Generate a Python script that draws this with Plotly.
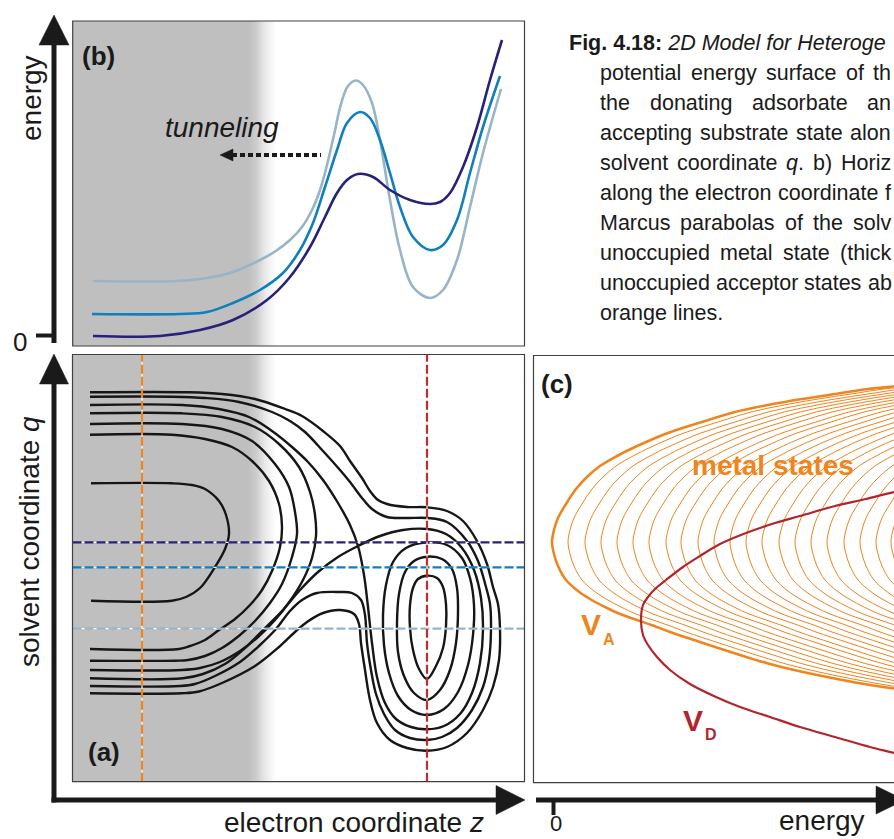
import plotly.graph_objects as go

W, H = 894, 839

# ---------------- panel (b): energy along the electron coordinate z ----------------
b_dark_z = [2.1, 8.8, 12.8, 16.1, 19.5, 21.8, 23.8, 25.3, 26.5, 27.5, 28.6, 30.1, 31.8, 33.8, 35.8, 36.8, 37.8, 39.1, 40.5, 41.8, 43.0]
b_dark_E = [1.0, 1.0, 1.6, 2.6, 4.6, 6.9, 9.9, 12.9, 15.3, 16.6, 17.2, 16.9, 15.6, 14.6, 14.2, 14.4, 15.3, 17.9, 21.9, 26.6, 30.6]

b_mid_z = [2.0, 10.8, 13.5, 16.1, 18.8, 21.1, 22.8, 24.1, 25.3, 26.5, 27.5, 28.8, 29.8, 30.8, 31.8, 32.8, 34.1, 35.8, 37.1, 38.5, 39.8, 41.1, 42.8]
b_mid_E = [3.2, 3.2, 3.4, 4.3, 5.6, 7.3, 9.6, 12.3, 15.9, 19.6, 22.3, 23.4, 22.8, 20.6, 17.3, 13.9, 10.9, 9.6, 10.1, 12.6, 17.3, 21.9, 27.0]

b_light_z = [2.1, 10.5, 13.5, 16.1, 18.8, 20.3, 21.8, 23.0, 24.0, 24.8, 25.5, 26.2, 26.9, 27.6, 28.4, 29.1, 30.0, 30.8,
             31.8, 32.8, 34.1, 35.8, 37.1, 38.5, 39.8, 41.1, 42.9]
b_light_E = [6.5, 6.5, 6.8, 7.4, 8.6, 9.45, 10.6, 11.9, 13.6, 15.6, 18.1, 21.1, 24.2, 26.0, 26.55, 26.1, 24.3, 20.6,
             14.6, 9.6, 5.9, 4.8, 5.6, 8.6, 13.9, 19.3, 25.7]

# ---------------- panel (a): contour lines of the 2D surface (z, q) ----------------
u1_z = [1.9, 10.0, 12.0, 13.3, 14.7, 15.4, 15.7, 15.3, 14.3, 12.8, 11.4, 10.0, 1.9]
u1_q = [29.87, 29.87, 29.7, 29.3, 28.1, 26.7, 24.8, 23.3, 21.5, 19.4, 18.5, 18.13, 18.13]

u2_z = [1.8, 10.0, 13.3, 16.0, 18.0, 19.7, 20.7, 21.0, 20.8, 20.0, 19.0, 17.8, 16.3, 14.7, 13.3, 11.8, 10.7, 1.8]
u2_q = [34.73, 34.73, 34.3, 33.5, 32.1, 30.1, 27.8, 25.5, 23.5, 21.1, 19.2, 17.7, 16.3, 15.2, 14.2, 13.6, 13.3, 13.3]

u3_z = [1.8, 11.0, 15.0, 18.0, 20.3, 21.7, 22.3, 22.5, 22.0, 21.0, 19.8, 18.3, 16.8, 15.0, 13.3, 11.6, 10.3, 1.8]
u3_q = [35.8, 35.8, 35.3, 34.1, 31.8, 29.5, 27.0, 24.8, 22.5, 19.8, 17.9, 16.1, 14.7, 13.4, 12.6, 12.2, 12.13, 12.13]

u4_z = [1.8, 11.0, 15.0, 18.3, 20.7, 22.7, 23.8, 24.3, 24.4, 24.0, 23.1, 21.8, 20.3, 18.6, 16.8, 14.8, 12.8, 11.0, 1.8]
u4_q = [36.87, 36.87, 36.5, 35.5, 33.8, 31.5, 29.0, 26.7, 24.6, 22.4, 20.2, 18.1, 16.2, 14.5, 13.1, 12.0, 11.4, 11.2, 11.2]

sep_z = [1.8, 11.0, 14.7, 17.7, 20.0, 22.0, 23.6, 25.1, 26.6, 27.8, 28.6, 29.2, 29.6, 30.0, 30.5, 31.3, 32.4, 33.9, 35.5,
         37.2, 38.8, 40.0, 40.8, 41.1, 40.9, 40.2, 39.0, 37.4, 35.5, 33.1, 30.8, 28.6, 26.6, 24.6, 22.8, 21.0, 19.2,
         17.3, 15.3, 13.1, 11.1, 1.8]
sep_q = [37.7, 37.7, 37.3, 36.5, 35.1, 33.5, 32.0, 30.2, 27.9, 25.7, 23.6, 20.7, 17.5, 13.9, 10.5, 7.9, 6.3, 5.5, 5.27,
         5.6, 6.8, 8.9, 11.9, 15.2, 18.4, 21.2, 23.4, 24.8, 25.3, 25.2, 24.6, 23.6, 22.5, 21.0, 19.2, 17.1, 15.3,
         13.4, 11.8, 10.8, 10.37, 10.37]

outB_z = [1.8, 10.0, 13.3, 16.7, 20.0, 21.8, 23.3, 25.1, 26.8, 27.8, 29.0, 30.0, 31.5, 33.5, 35.5, 37.5, 39.5, 40.6,
          41.4, 41.8, 41.9, 41.7, 41.1, 40.0, 38.5, 37.0, 35.5, 33.8, 32.3, 31.2, 30.4, 29.9, 29.5, 29.3, 28.9, 28.0,
          26.8, 24.5, 23.0, 21.8, 20.4, 18.8, 16.8, 14.3, 12.3, 10.8, 1.8]
outB_q = [38.53, 38.53, 38.4, 38.0, 37.0, 36.1, 35.0, 33.1, 31.2, 30.0, 28.4, 27.3, 26.5, 26.4, 26.4, 26.0, 24.1, 22.1,
          19.5, 17.8, 15.3, 12.2, 9.5, 7.2, 5.4, 4.5, 4.2, 4.4, 5.2, 6.8, 8.8, 11.2, 13.9, 16.7, 18.2, 18.9,
          19.0, 18.9, 18.2, 17.1, 15.3, 13.7, 12.0, 10.6, 9.8, 9.6, 9.6]

outA_z = [1.8, 11.7, 15.0, 18.3, 21.3, 23.0, 25.1, 26.8, 27.8, 29.0, 29.8, 30.6, 31.5, 33.5, 35.5, 37.5, 39.1, 40.5,
          41.5, 42.1, 42.6, 42.8, 42.7, 42.1, 41.1, 39.5, 37.5, 35.5, 33.5, 31.8, 30.5, 29.8, 29.3, 28.9, 28.7, 28.2,
          26.8, 25.1, 23.5, 22.3, 20.7, 18.3, 15.0, 12.7, 11.0, 1.8]
outA_q = [38.97, 38.97, 38.8, 38.3, 37.3, 36.6, 35.1, 33.6, 32.1, 30.4, 29.1, 28.2, 27.8, 27.5, 27.47, 27.1, 26.1, 24.1,
          21.8, 19.5, 17.8, 15.3, 12.2, 9.5, 7.2, 4.9, 3.5, 3.13, 3.4, 4.2, 5.9, 8.2, 11.2, 13.9, 15.8, 16.8,
          17.2, 16.9, 16.0, 15.0, 13.5, 11.6, 9.9, 9.05, 8.87, 8.87]

o1_z = [35.5, 36.5, 37.1, 37.4, 37.4, 37.1, 36.4, 35.5, 34.7, 34.1, 33.8, 33.8, 34.1, 34.6, 35.5]
o1_q = [20.63, 20.4, 19.5, 17.8, 15.6, 13.4, 11.6, 10.3, 11.3, 13.2, 15.4, 17.7, 19.4, 20.3, 20.63]

o2_z = [35.5, 37.0, 38.0, 38.5, 38.6, 38.4, 37.8, 36.8, 35.5, 34.2, 33.2, 32.6, 32.5, 32.7, 33.3, 34.2, 35.5]
o2_q = [22.53, 22.3, 21.3, 19.4, 16.9, 13.9, 11.2, 9.2, 8.2, 8.9, 10.6, 13.0, 15.9, 18.8, 21.0, 22.1, 22.53]

o3_z = [35.5, 37.5, 39.0, 39.8, 40.2, 40.1, 39.6, 38.6, 37.2, 35.5, 33.9, 32.6, 31.7, 31.2, 31.1, 31.4, 32.1, 33.4, 35.5]
o3_q = [23.97, 23.7, 22.4, 20.4, 17.7, 14.7, 11.7, 9.0, 7.3, 6.7, 7.2, 8.6, 10.9, 13.7, 16.7, 19.7, 22.0, 23.4, 23.97]

# cuts shown in (a)
cut_q = [23.97, 21.47, 15.33]          # horizontal cuts (navy, blue, light)
cut_z = [7.0, 35.5]                    # vertical cuts (orange, red)

# metal region shading along z (1 = metal grey, 0 = vacuum white)
shade_z = [-3.0, 17.5, 18.3, 19.2, 20.3, 50.0]
shade_v = [1.0, 1.0, 0.8, 0.35, 0.0, 0.0]

# ---------------- panel (c): Marcus parabolas (energy, q) ----------------
va_e = [37.7, 34.1, 31.7, 28.4, 25.0, 21.7, 18.4, 15.0, 11.7, 10.0, 8.4, 6.7, 5.2, 3.7, 2.5, 1.3, 0.5, 0.1, -0.1,
        0.1, 0.5, 1.3, 2.3, 3.4, 4.7, 6.4, 8.2, 11.5, 14.9, 18.2, 21.5, 24.9, 28.2, 31.5, 34.1, 37.7]
va_q = [9.0, 9.35, 9.7, 10.3, 11.0, 11.8, 12.8, 13.9, 15.0, 15.65, 16.2, 16.8, 17.5, 18.3, 19.1, 20.2, 21.6, 22.8, 24.0,
        25.2, 26.4, 27.8, 29.3, 30.5, 31.6, 32.6, 33.5, 34.9, 36.0, 37.0, 37.7, 38.3, 38.8, 39.3, 39.55, 39.9]
metal_offsets = [1.6, 3.3, 4.9, 6.5, 8.1, 9.7, 11.4, 12.9, 14.6, 16.2, 17.8, 19.4, 21.0, 22.7, 24.3, 25.9, 27.5, 29.2,
                 30.8, 32.4, 33.9]

vd_e = [36.7, 34.1, 31.7, 28.2, 24.7, 21.7, 18.7, 16.3, 13.7, 11.7, 10.4, 9.5, 9.0, 8.8, 9.0, 9.5, 10.2, 11.3, 13.0,
        14.7, 16.7, 19.3, 22.2, 24.7, 28.2, 31.3, 34.1, 36.7]
vd_q = [2.2, 2.9, 3.5, 4.5, 5.5, 6.5, 7.5, 8.5, 9.8, 11.2, 12.5, 13.7, 14.7, 16.2, 17.7, 18.5, 19.3, 20.2, 21.5, 22.6,
        23.8, 24.9, 25.9, 26.6, 27.6, 28.3, 29.0, 29.5]

caption_first = "<b>Fig. 4.18:</b> <i>2D Model for Heteroge</i>"
caption_lines = [
    "potential energy surface of th",
    "the donating adsorbate an",
    "accepting substrate state alon",
    "solvent coordinate <i>q</i>. b) Horiz",
    "along the electron coordinate f",
    "Marcus parabolas of the solv",
    "unoccupied metal state (thick",
    "unoccupied acceptor states ab",
]
caption_last = "orange lines."

# ---------------- styling ----------------
NAVY, BLUE, LIGHT = "#28217a", "#0f7fbd", "#98b4c6"
ORANGE, RED = "#ee851e", "#c62a2e"
VD_RED = "#b3252c"
INK = "#161616"
SANS = "Liberation Sans, Arial, Helvetica, sans-serif"
CAP_SIZE = 21.5

# Arial / Liberation Sans advance widths (em) used to justify the caption lines
AW = {'a': .556, 'b': .556, 'c': .5, 'd': .556, 'e': .556, 'f': .278, 'g': .556, 'h': .556, 'i': .222, 'j': .222,
      'k': .5, 'l': .222, 'm': .833, 'n': .556, 'o': .556, 'p': .556, 'q': .556, 'r': .333, 's': .5, 't': .278,
      'u': .556, 'v': .5, 'w': .722, 'x': .5, 'y': .5, 'z': .5, 'M': .833, 'H': .722, '.': .278, '(': .333,
      ')': .333, ':': .278, ' ': .278}


def plain(s):
    for tag in ("<i>", "</i>", "<b>", "</b>"):
        s = s.replace(tag, "")
    return s


def width(s, size):
    return sum(AW.get(ch, .556) for ch in plain(s)) * size


def px(x):
    return x / W


def py(y):
    return 1 - y / H


A_X = [px(72.5), px(524.5)]
A_Y = [py(781.7), py(354.5)]
B_Y = [py(346), py(21)]
C_X = [px(533.5), 1.0]
Z_RANGE = [0.05, 45.25]
Q_RANGE = [0.03, 42.75]
E_RANGE = [0.0, 32.5]
EC_RANGE = [-1.95, 34.1]

fig = go.Figure()

# metal shading (a) and (b)
for xa, ya in (("x", "y"), ("x2", "y2")):
    fig.add_trace(go.Heatmap(x=shade_z, y=[-10, 80], z=[shade_v, shade_v], zmin=0, zmax=1,
                             colorscale=[[0, "#ffffff"], [1, "#bfbfbf"]], zsmooth="best",
                             showscale=False, hoverinfo="skip", xaxis=xa, yaxis=ya))

# contours (a)
for zz, qq in ((u1_z, u1_q), (u2_z, u2_q), (u3_z, u3_q), (u4_z, u4_q), (sep_z, sep_q),
               (outB_z, outB_q), (outA_z, outA_q), (o1_z, o1_q), (o2_z, o2_q), (o3_z, o3_q)):
    fig.add_trace(go.Scatter(x=zz, y=qq, mode="lines", line=dict(color=INK, width=2.4, shape="spline", smoothing=1.0),
                             hoverinfo="skip", xaxis="x", yaxis="y"))

# dashed cuts (a)
for qv, col in zip(cut_q, (NAVY, BLUE, LIGHT)):
    fig.add_trace(go.Scatter(x=Z_RANGE, y=[qv, qv], mode="lines", line=dict(color="#ffffff", width=1.2),
                             hoverinfo="skip", xaxis="x", yaxis="y"))
    fig.add_trace(go.Scatter(x=Z_RANGE, y=[qv, qv], mode="lines", line=dict(color=col, width=2.3, dash="9px,3px"),
                             hoverinfo="skip", xaxis="x", yaxis="y"))
for zv, col in zip(cut_z, (ORANGE, RED)):
    fig.add_trace(go.Scatter(x=[zv, zv], y=Q_RANGE, mode="lines", line=dict(color="#ffffff", width=1.2),
                             hoverinfo="skip", xaxis="x", yaxis="y"))
    fig.add_trace(go.Scatter(x=[zv, zv], y=Q_RANGE, mode="lines", line=dict(color=col, width=2.2, dash="9px,3px"),
                             hoverinfo="skip", xaxis="x", yaxis="y"))

# curves (b)
for zz, ee, col in ((b_light_z, b_light_E, LIGHT), (b_mid_z, b_mid_E, BLUE), (b_dark_z, b_dark_E, NAVY)):
    fig.add_trace(go.Scatter(x=zz, y=ee, mode="lines", line=dict(color=col, width=2.6, shape="spline", smoothing=1.0),
                             hoverinfo="skip", xaxis="x2", yaxis="y2"))

# parabolas (c)
for off in metal_offsets:
    fig.add_trace(go.Scatter(x=[e + off for e in va_e], y=va_q, mode="lines",
                             line=dict(color=ORANGE, width=1.0, shape="spline", smoothing=1.0),
                             hoverinfo="skip", xaxis="x3", yaxis="y3"))
fig.add_trace(go.Scatter(x=va_e, y=va_q, mode="lines", line=dict(color=ORANGE, width=2.6, shape="spline", smoothing=1.0),
                         hoverinfo="skip", xaxis="x3", yaxis="y3"))
fig.add_trace(go.Scatter(x=vd_e, y=vd_q, mode="lines", line=dict(color=VD_RED, width=2.2, shape="spline", smoothing=1.0),
                         hoverinfo="skip", xaxis="x3", yaxis="y3"))

# ---------------- shapes: frames and axis arrows ----------------
AX = "#1a1a1a"
FRAME = dict(color="#404040", width=1.2)
shapes = [
    dict(type="rect", xref="paper", yref="paper", x0=px(72.7), x1=px(524.5), y0=py(346), y1=py(21), line=FRAME, layer="above"),
    dict(type="rect", xref="paper", yref="paper", x0=px(72.5), x1=px(524.5), y0=py(781.7), y1=py(354.5), line=FRAME, layer="above"),
    dict(type="rect", xref="paper", yref="paper", x0=px(533.5), x1=px(915), y0=py(782.7), y1=py(355.5), line=FRAME, layer="above"),
]


def seg(x0, y0, x1, y1, width=5, dash=None):
    ln = dict(color=AX, width=width)
    if dash:
        ln["dash"] = dash
    return dict(type="line", xref="paper", yref="paper", x0=px(x0), y0=py(y0), x1=px(x1), y1=py(y1), line=ln)


def tri(pts):
    d = "M " + " L ".join(f"{px(a):.5f},{py(b):.5f}" for a, b in pts) + " Z"
    return dict(type="path", xref="paper", yref="paper", path=d, fillcolor=AX, line=dict(color=AX, width=0.5))


shapes += [
    seg(54, 343, 54, 44), tri([(39, 45), (54, 15), (69, 45)]),          # energy axis (b)
    seg(36, 335.5, 54, 335.5, width=4),                                 # 0 tick (b)
    seg(54, 802.5, 54, 383), tri([(39.5, 384), (54, 354), (68.5, 384)]),  # q axis (a)
    seg(51.5, 800, 497, 800), tri([(496, 785.5), (525, 800), (496, 814.5)]),  # z axis (a)
    seg(536, 800, 877, 800), tri([(876, 786), (905, 800), (876, 814)]),  # energy axis (c)
    seg(553.5, 800, 553.5, 815, width=4),                               # 0 tick (c)
    seg(232, 155, 321, 155, width=4, dash="5px,3px"), tri([(220, 155), (233, 149), (233, 161)]),  # tunneling
]

# ---------------- annotations ----------------
ann = []


def text(x, y, s, size, family=SANS, color="#1a1a1a", xanchor="center", yanchor="middle", angle=0):
    ann.append(dict(x=px(x), y=py(y), xref="paper", yref="paper", text=s, showarrow=False,
                    font=dict(family=family, size=size, color=color), xanchor=xanchor, yanchor=yanchor,
                    textangle=angle))


text(98, 56, "<b>(b)</b>", 26)
text(104, 752, "<b>(a)</b>", 26)
text(557, 384, "<b>(c)</b>", 26)
text(222, 127, "<i>tunneling</i>", 28)
text(31, 98, "energy", 28, angle=-90)
text(29, 542, "solvent coordinate <i>q</i>", 28, angle=-90)
text(354, 822, "electron coordinate <i>z</i>", 28)
text(822, 820, "energy", 28)
text(20, 342, "0", 26)
text(556, 838, "0", 22, yanchor="bottom")
text(773, 465, "<b>metal states</b>", 28, color=ORANGE)
text(591, 624, "<b>V</b>", 30, color=ORANGE)
text(609, 639, "<b>A</b>", 16, color=ORANGE)
text(693, 720, "<b>V</b>", 30, color=VD_RED)
text(711, 734, "<b>D</b>", 16, color=VD_RED)

# caption: first line, justified body lines, last line
text(567, 43, caption_first, CAP_SIZE, xanchor="left")
X0, X1 = 598, 889
for i, line in enumerate(caption_lines):
    yl = 73 + 30 * i
    words = line.split(" ")
    total = sum(width(w, CAP_SIZE) for w in words)
    gap = max((X1 - X0 - total) / (len(words) - 1), AW[" "] * CAP_SIZE)
    xw = X0
    for w in words:
        text(xw, yl, w, CAP_SIZE, xanchor="left")
        xw += width(w, CAP_SIZE) + gap
text(X0, 313, caption_last, CAP_SIZE, xanchor="left")

ax_off = dict(visible=False, showgrid=False, zeroline=False, fixedrange=True)
fig.update_layout(
    width=W, height=H, margin=dict(l=0, r=0, t=0, b=0),
    paper_bgcolor="white", plot_bgcolor="white", showlegend=False,
    xaxis=dict(domain=A_X, range=Z_RANGE, anchor="y", **ax_off),
    yaxis=dict(domain=A_Y, range=Q_RANGE, anchor="x", **ax_off),
    xaxis2=dict(domain=A_X, range=Z_RANGE, anchor="y2", **ax_off),
    yaxis2=dict(domain=B_Y, range=E_RANGE, anchor="x2", **ax_off),
    xaxis3=dict(domain=C_X, range=EC_RANGE, anchor="y3", **ax_off),
    yaxis3=dict(domain=[py(782.7), py(355.5)], range=[-0.07, 42.65], anchor="x3", **ax_off),
    shapes=shapes, annotations=ann,
)

fig.write_html("out.html")
